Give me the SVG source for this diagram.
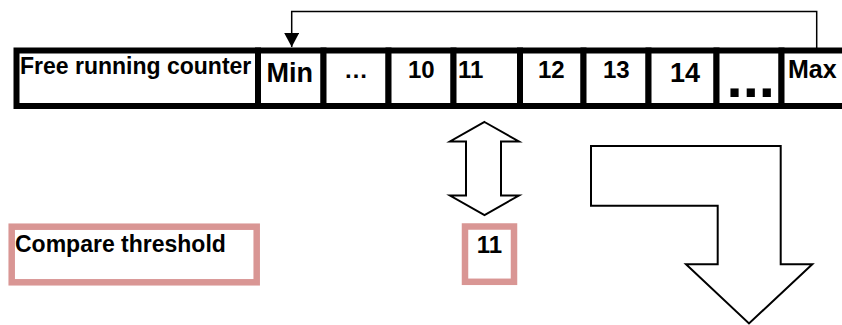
<svg xmlns="http://www.w3.org/2000/svg" width="842" height="325" viewBox="0 0 842 325">
  <style>
    .cell { fill: #ffffff; stroke: #000000; stroke-width: 6; }
    .thr { fill: #ffffff; stroke: #d99694; stroke-width: 6.5; }
    .lbl { font-family: "Liberation Sans", Arial, Helvetica, sans-serif; font-weight: bold; fill: #000000; }
    .wire { fill: none; stroke: #000000; stroke-width: 1.5; }
    .block { fill: #ffffff; stroke: #000000; stroke-width: 2; stroke-linejoin: miter; }
  </style>
  <defs>
    <marker id="head" markerUnits="userSpaceOnUse" markerWidth="14" markerHeight="15" refX="14" refY="7.5" orient="auto">
      <path d="M0,0 L14,7.5 L0,15 z" fill="#000000"/>
    </marker>
  </defs>

  <!-- counter register: one cell per value -->
  <g id="counter">
    <rect class="cell" x="16.5" y="50.5" width="241.5" height="55.5"/>
    <text class="lbl" x="20" y="73.5" font-size="23">Free running counter</text>
  </g>
  <g id="cell-min">
    <rect class="cell" x="258" y="50.5" width="65.5" height="55.5"/>
    <text class="lbl" x="266.5" y="81.5" font-size="27">Min</text>
  </g>
  <g id="cell-gap1">
    <rect class="cell" x="323.5" y="50.5" width="65" height="55.5"/>
    <text class="lbl" x="356" y="78" font-size="24" text-anchor="middle">…</text>
  </g>
  <g id="cell-10">
    <rect class="cell" x="388.5" y="50.5" width="65" height="55.5"/>
    <text class="lbl" x="408" y="78.3" font-size="24">10</text>
  </g>
  <g id="cell-11">
    <rect class="cell" x="453.5" y="50.5" width="66.5" height="55.5"/>
    <text class="lbl" x="458" y="78" font-size="24">11</text>
  </g>
  <g id="cell-12">
    <rect class="cell" x="520" y="50.5" width="63.5" height="55.5"/>
    <text class="lbl" x="538" y="77.7" font-size="24">12</text>
  </g>
  <g id="cell-13">
    <rect class="cell" x="583.5" y="50.5" width="65" height="55.5"/>
    <text class="lbl" x="603" y="77.7" font-size="24">13</text>
  </g>
  <g id="cell-14">
    <rect class="cell" x="648.5" y="50.5" width="68" height="55.5"/>
    <text class="lbl" x="670" y="82" font-size="27">14</text>
  </g>
  <g id="cell-gap2">
    <rect class="cell" x="716.5" y="50.5" width="65" height="55.5"/>
    <text class="lbl" x="726.6" y="97" font-size="58">...</text>
  </g>
  <g id="cell-max">
    <rect class="cell" x="781.5" y="50.5" width="70" height="55.5"/>
    <text class="lbl" x="788" y="78" font-size="25">Max</text>
  </g>

  <!-- compare threshold register -->
  <g id="threshold">
    <rect class="thr" x="11.7" y="226.7" width="245" height="55.6"/>
    <text class="lbl" x="15" y="251.7" font-size="23">Compare threshold</text>
  </g>
  <g id="threshold-value">
    <rect class="thr" x="465" y="226.5" width="49" height="55.3"/>
    <text class="lbl" x="476.7" y="253.3" font-size="24">11</text>
  </g>

  <!-- block arrows -->
  <g id="compare-arrow">
    <polygon class="block" points="484.5,122 519,141.5 501,141.5 501,195.5 519,195.5 484.5,215 450,195.5 466,195.5 466,141.5 450,141.5"/>
  </g>
  <g id="match-arrow">
    <polygon class="block" points="591,146 780.7,146 780.7,264.3 812.3,264.3 749,323.5 686,264.3 717.7,264.3 717.7,205.7 591,205.7"/>
  </g>

  <!-- wrap-around from Max back to Min -->
  <g id="connectors">
    <path class="wire" d="M816.7,48 V11.5 H291.7 V47" marker-end="url(#head)"/>
  </g>
</svg>
